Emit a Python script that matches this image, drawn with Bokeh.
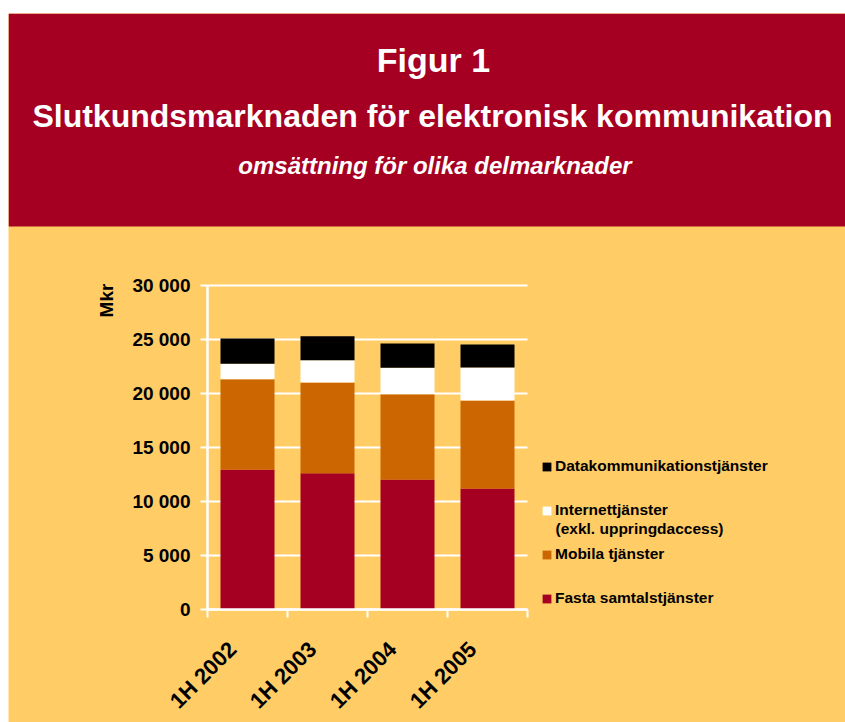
import math
from bokeh.plotting import figure
from bokeh.models import (ColumnDataSource, Label, Legend, LegendItem, LinearAxis,
                          FixedTicker, Range1d, BoxAnnotation)
from bokeh.embed import file_html
from bokeh.resources import INLINE

# ---------------- data ----------------
categories = ["1H 2002", "1H 2003", "1H 2004", "1H 2005"]
fasta = [12960, 12620, 12040, 11200]
mobila = [8360, 8400, 7900, 8150]
internet = [1430, 2060, 2440, 3060]
datakomm = [2340, 2230, 2250, 2130]
series_keys = ["fasta", "mobila", "internet", "datakomm"]
series_labels = ["Fasta samtalstjänster", "Mobila tjänster",
                 "Internettjänster", "Datakommunikationstjänster"]
internet_note = "(exkl. uppringdaccess)"
y_ticks = [0, 5000, 10000, 15000, 20000, 25000, 30000]
y_tick_labels = ["0", "5 000", "10 000", "15 000", "20 000", "25 000", "30 000"]
y_title = "Mkr"
title_1 = "Figur 1"
title_2 = "Slutkundsmarknaden för elektronisk kommunikation"
title_3 = "omsättning för olika delmarknader"

# ---------------- style / layout ----------------
RED = "#A50021"
ORANGE = "#CC6600"
YELLOW = "#FFCC66"
colors = [RED, ORANGE, "#FFFFFF", "#000000"]
FONT = "Liberation Sans"

n = len(categories)
YMAX = y_ticks[-1]
# page pixel positions of the plot area corners (x: 0..n, y: 0..YMAX)
PX0, PX1 = 207, 527
PY0, PY1 = 609, 285
PAGE_W, PAGE_H = 845, 722
LEFT_PAD, TOP_PAD = 8, 13
LABEL_SHIFT = 15  # px the rotated category labels sit left of the bar centres


def dx(px):
    return (px - PX0) / (PX1 - PX0) * n


def dy(py):
    return (PY0 - py) / (PY0 - PY1) * YMAX


source = ColumnDataSource(dict(x=[i + 0.5 for i in range(n)], fasta=fasta, mobila=mobila,
                               internet=internet, datakomm=datakomm))

p = figure(width=PAGE_W, height=PAGE_H, output_backend="svg", toolbar_location=None,
           x_range=Range1d(dx(LEFT_PAD), dx(PAGE_W)), y_range=Range1d(dy(PAGE_H), dy(TOP_PAD)),
           min_border_left=LEFT_PAD, min_border_top=TOP_PAD, min_border_right=0,
           min_border_bottom=0, background_fill_color=YELLOW, border_fill_color="white",
           outline_line_color=None)

# banner
p.add_layout(BoxAnnotation(bottom=dy(226), fill_color=RED, fill_alpha=1.0, line_color=None,
                           level="underlay"))
p.add_layout(Label(x=dx(433), y=dy(59), text=title_1, text_font=FONT, text_font_style="bold",
                   text_font_size="34px", text_color="white", text_align="center",
                   text_baseline="alphabetic"))
p.add_layout(Label(x=dx(432), y=dy(115), text=title_2, text_font=FONT, text_font_style="bold",
                   text_font_size="32px", text_color="white", text_align="center",
                   text_baseline="alphabetic"))
p.add_layout(Label(x=dx(434.5), y=dy(165), text=title_3, text_font=FONT,
                   text_font_style="bold italic", text_font_size="24px", text_color="white",
                   text_align="center", text_baseline="alphabetic"))

renderers = p.vbar_stack(series_keys, x="x", width=0.675, color=colors, line_color=None,
                         source=source)

# y axis
yax = p.yaxis[0]
yax.fixed_location = 0
yax.bounds = (0, YMAX)
yax.ticker = FixedTicker(ticks=y_ticks)
yax.major_label_overrides = {t: l for t, l in zip(y_ticks, y_tick_labels)}
yax.axis_line_color = "white"
yax.axis_line_width = 2.5
yax.major_tick_line_color = "white"
yax.major_tick_line_width = 2
yax.major_tick_out = 7
yax.major_tick_in = 0
yax.minor_tick_line_color = None
yax.major_label_standoff = 10
yax.major_label_text_font = FONT
yax.major_label_text_font_style = "bold"
yax.major_label_text_font_size = "19px"
yax.major_label_text_color = "black"

p.ygrid.ticker = FixedTicker(ticks=y_ticks)
p.ygrid.bounds = (0, YMAX)
p.ygrid.cross_bounds = (0, n)
p.ygrid.grid_line_color = "white"
p.ygrid.grid_line_width = 2
p.xgrid.visible = False

# x axis: boundary ticks
xax = p.xaxis[0]
xax.fixed_location = 0
xax.bounds = (0, n)
xax.ticker = FixedTicker(ticks=list(range(n + 1)))
xax.major_label_overrides = {i: "" for i in range(n + 1)}
xax.major_label_text_font_size = "0px"
xax.axis_line_color = "white"
xax.axis_line_width = 2.5
xax.major_tick_line_color = "white"
xax.major_tick_line_width = 2
xax.major_tick_out = 8
xax.major_tick_in = 0
xax.minor_tick_line_color = None

# x axis: category labels
shift = LABEL_SHIFT / (PX1 - PX0) * n
label_pos = [i + 0.5 - shift for i in range(n)]
cax = LinearAxis(fixed_location=0, ticker=FixedTicker(ticks=label_pos),
                 major_label_overrides={pos: c for pos, c in zip(label_pos, categories)},
                 axis_line_color=None, major_tick_line_color=None, minor_tick_line_color=None,
                 major_tick_out=0, major_tick_in=0, major_label_standoff=36,
                 major_label_orientation=math.pi / 4,
                 major_label_text_font=FONT, major_label_text_font_style="bold",
                 major_label_text_font_size="22px", major_label_text_color="black")
p.add_layout(cax, "below")

# y title
p.add_layout(Label(x=dx(106), y=dy(300), text=y_title, angle=math.pi / 2, text_font=FONT,
                   text_font_style="bold", text_font_size="19px", text_color="black",
                   text_align="center", text_baseline="middle"))

# legends, one per row (top of glyph box in page px)
legend_rows = [(3, 457), (2, 501), (1, 545), (0, 589)]
for idx, top in legend_rows:
    leg = Legend(items=[LegendItem(label=series_labels[idx], renderers=[renderers[idx]])],
                 location=(541 - LEFT_PAD, PAGE_H - (top + 18)), padding=0, margin=0, spacing=0,
                 border_line_color=None, background_fill_alpha=0,
                 glyph_width=11, glyph_height=11, label_standoff=3,
                 label_text_font=FONT, label_text_font_style="bold",
                 label_text_font_size="15.5px", label_text_color="black")
    p.add_layout(leg)

p.add_layout(Label(x=dx(555), y=dy(528), text=internet_note, text_font=FONT,
                   text_font_style="bold", text_font_size="15.5px", text_color="black",
                   text_align="left", text_baseline="middle"))

open("out.html", "w").write(file_html(p, INLINE))
